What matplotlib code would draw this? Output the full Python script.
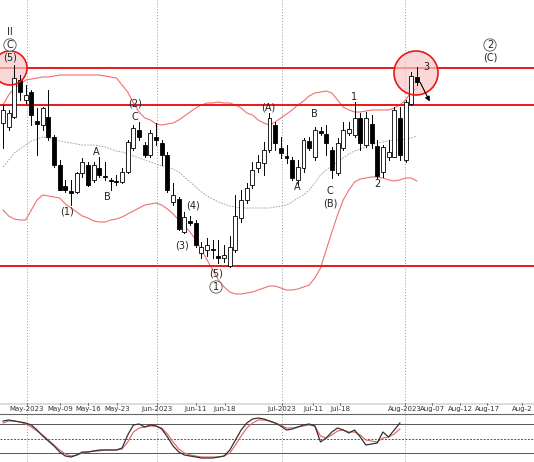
import matplotlib.pyplot as plt
from matplotlib.patches import Ellipse, Rectangle

# price values are read in chart pixel units (y grows downward)
opens = [123, 127, 117, 80, 100, 92, 121, 125, 117, 137, 165, 186, 191, 192, 173, 165, 180, 168, 176, 180,
         181, 182, 172, 148, 130, 145, 155, 137, 143, 155, 202, 199, 232, 221, 223, 253, 250, 249, 256, 258,
         266, 250, 218, 200, 185, 168, 163, 150, 125, 148, 156, 160, 180, 168, 141, 157, 131, 134, 150, 173,
         148, 133, 135, 118, 145, 124, 146, 172, 157, 157, 118, 160, 104, 77]
closes = [110, 113, 78, 92, 95, 115, 124, 108, 137, 165, 190, 190, 193, 173, 162, 185, 165, 175, 177, 181,
          181, 172, 142, 128, 137, 155, 133, 140, 155, 190, 195, 229, 217, 223, 245, 247, 245, 249, 258, 255,
          247, 216, 200, 188, 170, 162, 150, 118, 143, 153, 158, 178, 167, 140, 148, 130, 133, 143, 170, 143,
          130, 129, 118, 143, 118, 143, 176, 147, 152, 110, 155, 102, 76, 82]
highs = [105, 110, 65, 75, 85, 90, 108, 107, 90, 135, 160, 180, 180, 172, 158, 162, 162, 157, 162, 178,
         175, 168, 140, 125, 122, 142, 130, 123, 140, 152, 183, 197, 212, 216, 220, 242, 238, 240, 240, 245,
         236, 195, 190, 183, 162, 155, 142, 113, 122, 137, 145, 157, 160, 138, 137, 127, 127, 125, 147, 138,
         122, 122, 102, 113, 112, 115, 140, 145, 140, 107, 107, 100, 72, 67]
lows = [148, 130, 118, 100, 103, 125, 155, 130, 140, 167, 190, 192, 205, 193, 177, 186, 182, 177, 180, 190,
        185, 183, 173, 150, 140, 157, 157, 145, 165, 192, 205, 230, 233, 225, 247, 258, 256, 258, 263, 262,
        267, 252, 222, 203, 188, 172, 175, 152, 150, 158, 163, 180, 185, 172, 150, 160, 135, 155, 178, 175,
        150, 135, 137, 150, 147, 148, 178, 177, 160, 157, 160, 162, 105, 85]

band_upper = [105, 95, 88, 84, 80, 79, 78, 77, 77, 76, 75, 75, 75, 75, 75, 75, 75, 75, 76, 77,
              78, 85, 92, 103, 112, 118, 120, 124, 125, 124, 123, 120, 116, 112, 108, 105, 103, 103, 102, 103,
              103, 105, 108, 113, 115, 120, 123, 125, 122, 118, 114, 110, 105, 101, 96, 93, 92, 91, 93, 100,
              107, 110, 112, 112, 111, 110, 110, 110, 110, 108, 105, 100, 92, 88]
band_mid = [167, 160, 153, 149, 145, 141, 139, 137, 138, 140, 141, 142, 143, 144, 145, 145, 145, 146, 147, 149,
            151, 152, 154, 156, 158, 160, 162, 164, 166, 167, 169, 172, 177, 182, 187, 192, 196, 199, 202, 204,
            206, 207, 208, 208, 208, 208, 208, 208, 207, 206, 205, 202, 198, 195, 190, 183, 175, 170, 166, 162,
            158, 154, 151, 149, 147, 145, 143, 142, 141, 140, 140, 139, 138, 136]
band_lower = [210, 216, 219, 220, 220, 210, 200, 195, 196, 197, 198, 204, 208, 212, 216, 218, 221, 222, 222, 220,
              219, 217, 214, 211, 208, 205, 204, 203, 205, 209, 214, 220, 226, 232, 240, 250, 260, 270, 280, 287,
              292, 294, 294, 293, 292, 290, 288, 286, 286, 288, 290, 290, 289, 287, 285, 278, 268, 250, 232, 215,
              200, 190, 182, 179, 178, 177, 177, 178, 180, 181, 180, 178, 178, 181]

osc_k = [421, 420, 421, 422, 423, 425, 430, 436, 441, 446, 452, 456, 457, 455, 452, 452, 451, 450, 450, 450,
         450, 448, 435, 425, 424, 427, 425, 426, 429, 437, 446, 452, 455, 456, 457, 458, 458, 458, 457, 456,
         450, 440, 430, 423, 419, 418, 419, 421, 423, 426, 430, 429, 427, 425, 424, 426, 442, 438, 432, 428,
         430, 433, 430, 437, 445, 444, 443, 432, 437, 430, 423]
osc_d = [423, 421, 421, 422, 424, 427, 431, 435, 440, 445, 450, 454, 456, 455, 453, 452, 451, 451, 450, 450,
         450, 449, 442, 432, 428, 427, 426, 426, 428, 434, 442, 449, 453, 455, 456, 457, 457, 457, 457, 456,
         453, 445, 436, 428, 423, 420, 420, 421, 423, 425, 428, 428, 427, 426, 425, 426, 436, 438, 435, 431,
         430, 432, 432, 435, 440, 441, 442, 438, 437, 434, 429]

level_lines = [68, 105, 266]
osc_levels = [424, 439, 453]
month_pixels = [27, 157, 282, 405]
date_labels = ["May-2023", "May-09", "May-16", "May-23", "Jun-2023", "Jun-11", "Jun-18",
               "Jul-2023", "Jul-11", "Jul-18", "Aug-2023", "Aug-07", "Aug-12", "Aug-17", "Aug-2"]
date_pixels = [27, 60, 88, 117, 157, 196, 225, 282, 313, 340, 405, 432, 460, 487, 522]

# (text, pixel x, pixel y, circled)
wave_labels = [
    ("II", 10, 32, False), ("C", 10, 45, True), ("(5)", 10, 58, False),
    ("(1)", 67, 212, False), ("A", 96, 152, False), ("B", 107, 197, False),
    ("C", 135, 117, False), ("(2)", 135, 104, False), ("(3)", 182, 246, False),
    ("(4)", 193, 206, False), ("(5)", 216, 274, False), ("1", 216, 287, True),
    ("(A)", 268, 107, False), ("A", 297, 187, False), ("B", 314, 114, False),
    ("C", 330, 191, False), ("(B)", 330, 204, False), ("1", 354, 97, False),
    ("2", 377, 184, False), ("3", 426, 67, False), ("2", 490, 45, True), ("(C)", 490, 58, False),
]

STEP = 5.67


def to_bar(px):
    return (px - 3) / STEP


fig = plt.figure(figsize=(5.34, 4.62), dpi=100)
ax = fig.add_axes([0, 0, 1, 1])
ax.set_xlim(to_bar(0), to_bar(534))
ax.set_ylim(462, 0)
ax.axis("off")

# date axis strip background
ax.add_patch(Rectangle((to_bar(0), 402.5), to_bar(534) - to_bar(0), 2.5,
                       facecolor="#dddddd", edgecolor="none", zorder=0))

for px in month_pixels:
    ax.plot([to_bar(px)] * 2, [0, 462], color="#999999", linestyle=(0, (1, 2)), linewidth=0.7)

bars = range(len(band_upper))
ax.plot(bars, band_upper, color="#f07070", linewidth=0.8)
ax.plot(bars, band_lower, color="#f07070", linewidth=0.8)
ax.plot(bars, band_mid, color="#999999", linestyle=(0, (2, 1.5)), linewidth=0.6)

for y in level_lines:
    ax.axhline(y, xmin=0, xmax=1, color="#e81818", linewidth=1.4)

for cx, cy, r in [(10, 68, 17), (416, 73, 22)]:
    ax.add_patch(Ellipse((to_bar(cx), cy), 2 * r / STEP, 2 * r, facecolor="#f8c8c8",
                         alpha=0.7, edgecolor="none", zorder=2))
    ax.add_patch(Ellipse((to_bar(cx), cy), 2 * r / STEP, 2 * r, facecolor="none",
                         edgecolor="#e81818", linewidth=1.2, zorder=5))

for i, (o, c, h, l) in enumerate(zip(opens, closes, highs, lows)):
    ax.plot([i, i], [h, l], color="black", linewidth=0.7, zorder=3)
    top, bottom = min(o, c), max(o, c)
    face = "white" if c < o else "black"
    ax.add_patch(Rectangle((i - 0.35, top), 0.7, max(bottom - top, 0.8),
                           facecolor=face, edgecolor="black", linewidth=0.6, zorder=4))

ax.annotate("", xy=(to_bar(431), 104), xytext=(to_bar(419), 80),
            arrowprops=dict(arrowstyle="-|>", color="black", lw=0.8, mutation_scale=7), zorder=6)

for text, px, py, circled in wave_labels:
    bbox = dict(boxstyle="circle,pad=0.12", facecolor="white", edgecolor="#555555", lw=0.6) if circled else None
    ax.text(to_bar(px), py, text, fontsize=7, ha="center", va="center", color="#222222",
            family="DejaVu Sans", bbox=bbox, zorder=7)

# date axis strip
ax.plot([to_bar(0), to_bar(534)], [414, 414], color="#666666", linewidth=0.8)
for label, px in zip(date_labels, date_pixels):
    ax.plot([to_bar(px)] * 2, [402.5, 405], color="#666666", linewidth=0.6)
    ax.text(to_bar(px), 409, label, fontsize=5, ha="center", va="center", color="#333333")

# oscillator panel
for y, style in zip(osc_levels, ["-", (0, (2, 1.5)), "-"]):
    ax.plot([to_bar(0), to_bar(534)], [y, y], color="#555555", linestyle=style, linewidth=0.7)
ax.plot(range(len(osc_d)), osc_d, color="#e06060", linewidth=0.8)
ax.plot(range(len(osc_k)), osc_k, color="#333333", linewidth=0.9)

fig.savefig("out.png", dpi=100)
